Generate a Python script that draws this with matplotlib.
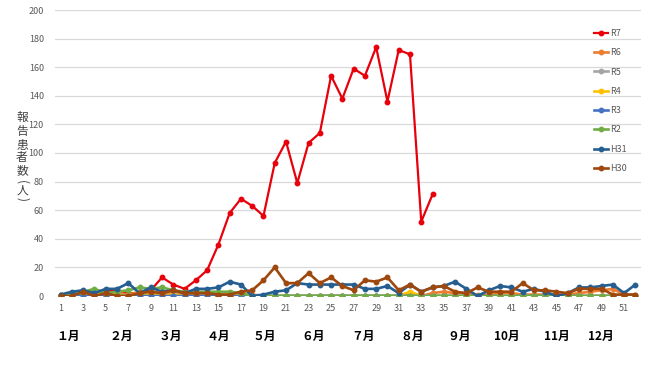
import numpy as np
import matplotlib
matplotlib.use("Agg")
import matplotlib.pyplot as plt
import matplotlib.transforms as mtransforms

plt.rcParams['font.family'] = ['Noto Sans CJK JP', 'DejaVu Sans']

weeks = np.arange(1, 53)
nan = np.nan

r7 = [0, 1, 3, 4, 3, 4, 2, 2, 4, 13, 8, 5, 11, 18, 36, 58, 68, 63, 56, 93,
      108, 79, 107, 114, 154, 138, 159, 154, 174, 136, 172, 169, 52, 71] + [nan] * 18
r6 = [1, 0, 2, 3, 1, 2, 1, 3, 2, 2, 2, 1, 1, 2, 1, 1, 2, 1, 0, 0, 0, 0, 0, 0, 0, 0,
      0, 0, 0, 0, 0, 1, 0, 2, 3, 2, 2, 1, 1, 2, 2, 1, 1, 1, 1, 1, 2, 3, 4, 5, 1, 1]
r5 = [0, 0, 1, 1, 0, 1, 0, 1, 1, 0, 1, 0, 0, 1, 0, 0, 0, 0, 0, 0, 0, 0, 0, 0, 0, 0,
      0, 0, 0, 0, 0, 0, 0, 0, 0, 0, 0, 0, 0, 0, 0, 0, 0, 0, 0, 0, 0, 0, 0, 0, 0, 0]
r4 = [0, 0, 1, 2, 1, 1, 0, 1, 1, 0, 1, 0, 0, 0, 0, 1, 0, 0, 0, 0, 0, 0, 0, 0, 0, 0,
      0, 0, 0, 0, 0, 3, 0, 0, 0, 0, 0, 0, 0, 0, 0, 0, 0, 0, 0, 0, 0, 0, 0, 0, 0, 0]
r3 = [1, 1, 0, 0, 0, 0, 0, 0, 0, 0, 0, 0, 0, 0, 0, 0, 0, 0, 0, 0, 0, 0, 0, 0, 0, 0,
      0, 0, 0, 0, 0, 0, 0, 0, 0, 0, 0, 0, 0, 0, 0, 0, 0, 0, 0, 0, 0, 0, 0, 0, 0, 0]
r2 = [1, 1, 3, 5, 2, 3, 4, 6, 5, 6, 4, 3, 3, 3, 3, 3, 2, 0, 0, 0, 0, 0, 0, 0, 0, 0,
      0, 0, 0, 0, 0, 0, 0, 0, 0, 0, 0, 0, 0, 0, 0, 0, 0, 0, 0, 0, 0, 0, 0, 0, 0, 0]
h31 = [1, 3, 4, 2, 5, 5, 9, 2, 6, 3, 4, 2, 5, 5, 6, 10, 8, 0, 1, 3, 4, 9, 8, 8, 8, 8,
       8, 5, 5, 7, 2, 8, 3, 6, 7, 10, 5, 0, 4, 7, 6, 3, 5, 3, 0, 2, 6, 6, 7, 8, 2, 8]
h30 = [0, 0, 3, 0, 2, 0, 0, 2, 3, 2, 4, 2, 2, 2, 1, 1, 3, 4, 11, 20, 9, 9, 16, 9, 13, 7,
       4, 11, 10, 13, 4, 8, 3, 6, 7, 3, 2, 6, 3, 3, 3, 9, 4, 4, 3, 2, 5, 5, 5, 1, 1, 1]

labels = ['R7', 'R6', 'R5', 'R4', 'R3', 'R2', 'H31', 'H30']
series = [r7, r6, r5, r4, r3, r2, h31, h30]
colors = ['#E8000B', '#ED7D31', '#A5A5A5', '#FFC000', '#4472C4', '#70AD47', '#255E91', '#9E480E']

months = ['１月', '２月', '３月', '４月', '５月', '６月', '７月', '８月', '９月', '10月', '11月', '12月']
month_pos = [1.7, 6.4, 10.7, 15.0, 19.1, 23.4, 27.8, 32.2, 36.4, 40.6, 45.0, 48.9]

# vertical y label: 報告患者数（人）, brackets turned sideways
ylabel_chars = ['報', '告', '患', '者', '数', '(', '人', ')']
ylabel_px = [117, 131, 145, 158, 171, 182, 190, 199]

fig = plt.figure(figsize=(6.5, 3.65), dpi=100)
ax = fig.add_axes([55 / 650, 69 / 365, 586 / 650, 286 / 365])

for i, (lab, vals, c) in enumerate(zip(labels, series, colors)):
    lw = 1.6 if lab == 'R7' else 1.9
    ax.plot(weeks, vals, color=c, lw=lw, marker='o', ms=3.2, label=lab, zorder=3 + i)

ax.set_xlim(0.5, 52.5)
ax.set_ylim(0, 200)
ax.set_yticks(np.arange(0, 201, 20))
ax.set_xticks(np.arange(1, 52, 2))
ax.grid(axis='y', color='#D9D9D9', lw=0.9)
ax.set_axisbelow(True)
for s in ax.spines.values():
    s.set_visible(False)
ax.tick_params(length=0, labelsize=6.5, labelcolor='#595959')
ax.tick_params(axis='y', pad=8)
ax.tick_params(axis='x', pad=6)

trans = mtransforms.blended_transform_factory(ax.transData, fig.transFigure)
for m, p in zip(months, month_pos):
    ax.text(p, 1 - 336 / 365, m, transform=trans, ha='center', va='center',
            fontsize=8.5, fontweight='bold', color='black')

for ch, py in zip(ylabel_chars, ylabel_px):
    rot = -90 if ch in '()' else 0
    fig.text(22 / 650, 1 - py / 365, ch, ha='center', va='center', rotation=rot,
             rotation_mode='anchor', fontsize=8.5, color='#404040')

leg = ax.legend(loc='upper left', bbox_to_anchor=(594 / 650, 1 - 29 / 365),
                bbox_transform=fig.transFigure, frameon=False, fontsize=6.5,
                handlelength=1.6, handletextpad=0.2, labelspacing=1.14,
                borderpad=0, borderaxespad=0)
for t in leg.get_texts():
    t.set_color('#595959')

fig.savefig('out.png', dpi=100)
